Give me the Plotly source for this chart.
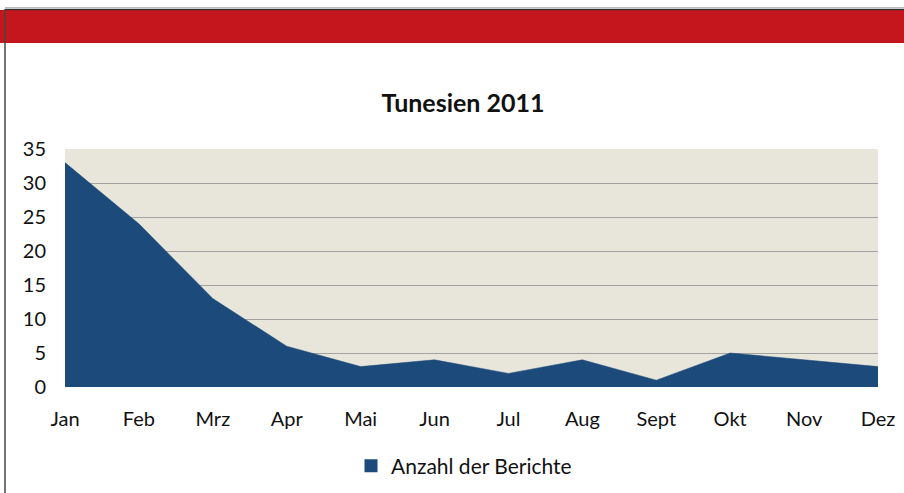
import plotly.graph_objects as go

months = ["Jan", "Feb", "Mrz", "Apr", "Mai", "Jun", "Jul", "Aug", "Sept", "Okt", "Nov", "Dez"]
berichte = [33, 24, 13, 6, 3, 4, 2, 4, 1, 5, 4, 3]
y_ticks = [0, 5, 10, 15, 20, 25, 30, 35]
series_name = "Anzahl der Berichte"
title_text = "Tunesien 2011"

AREA = "#1C4A7A"
BG = "#E8E6DA"
FONT = "Lato, Noto Sans, sans-serif"

fig = go.Figure()
fig.add_trace(go.Scatter(
    x=list(range(len(months))), y=berichte, mode="lines",
    fill="tozeroy", fillcolor=AREA, line=dict(color=AREA, width=0.5),
    showlegend=False, hoverinfo="x+y"))
fig.add_trace(go.Scatter(
    x=[None], y=[None], mode="markers", name=series_name,
    marker=dict(symbol="square", size=13, color=AREA), showlegend=True))

W, H = 904, 493
L, R, T, B = 65, 26, 149, 106
pw, ph = W - L - R, H - T - B

def px(x):
    return (x - L) / pw

def py(y):
    return (H - B - y) / ph

shapes = [
    dict(type="rect", xref="paper", yref="paper", x0=px(-5), x1=px(W + 5),
         y0=py(43), y1=py(10), fillcolor="#C5161D", line=dict(width=0), layer="above"),
    dict(type="line", xref="paper", yref="paper", x0=px(5), x1=px(W + 5),
         y0=py(9.5), y1=py(9.5), line=dict(color="#333333", width=1.5)),
    dict(type="line", xref="paper", yref="paper", x0=px(5), x1=px(W + 5),
         y0=py(7.5), y1=py(7.5), line=dict(color="#BBBBBB", width=1)),
    dict(type="line", xref="paper", yref="paper", x0=px(5), x1=px(5),
         y0=py(H + 5), y1=py(9), line=dict(color="#444444", width=1.5)),
]

fig.update_layout(
    width=W, height=H,
    margin=dict(l=L, r=R, t=T, b=B, autoexpand=False),
    paper_bgcolor="white", plot_bgcolor=BG,
    font=dict(family=FONT, size=20, color="#111111"),
    title=dict(text="<b>" + title_text + "</b>", xref="container", x=463 / W, xanchor="center",
               yref="container", y=1 - 103 / H, yanchor="middle",
               font=dict(family=FONT, size=25, color="#111111")),
    shapes=shapes,
    showlegend=True,
    legend=dict(orientation="h", x=px(464), xanchor="center", y=py(466), yanchor="middle",
                font=dict(family=FONT, size=21, color="#111111"),
                bgcolor="rgba(0,0,0,0)", itemwidth=30),
    xaxis=dict(
        range=[0, len(months) - 1], tickmode="array",
        tickvals=list(range(len(months))), ticktext=months,
        showgrid=False, zeroline=False, showline=False, ticks="",
        ticklabelstandoff=18, fixedrange=True),
    yaxis=dict(
        range=[0, 35], tickmode="array", tickvals=y_ticks,
        showgrid=True, gridcolor="#A2A2A2", gridwidth=1.3,
        zeroline=False, showline=False, ticks="",
        ticklabelstandoff=18, fixedrange=True),
)

fig.write_html("out.html", config={"displayModeBar": False},
               post_script="document.body.style.margin='0';document.body.style.overflow='hidden';")
